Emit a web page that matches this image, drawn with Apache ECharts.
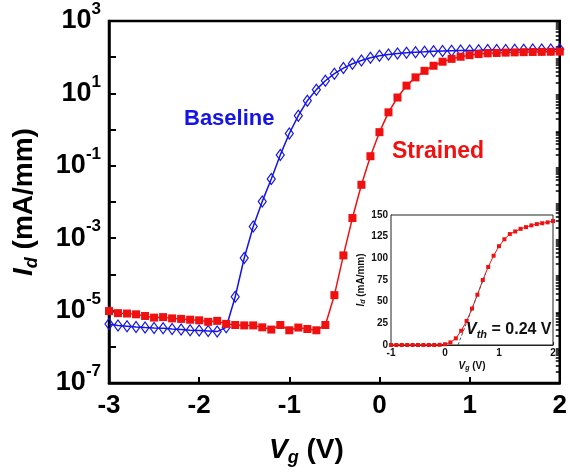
<!DOCTYPE html>
<html>
<head>
<meta charset="utf-8">
<script src="https://cdn.jsdelivr.net/npm/echarts@6/dist/echarts.min.js"></script>
<style>
  html, body { margin: 0; padding: 0; background: #fff; }
  #chart { width: 570px; height: 472px; }
</style>
</head>
<body>
<div id="chart"></div>
<script>
// gate voltage, V (0.1 V steps)
var vg = [-3.0, -2.9, -2.8, -2.7, -2.6, -2.5, -2.4, -2.3, -2.2, -2.1,
  -2.0, -1.9, -1.8, -1.7, -1.6, -1.5, -1.4, -1.3, -1.2, -1.1,
  -1.0, -0.9, -0.8, -0.7, -0.6, -0.5, -0.4, -0.3, -0.2, -0.1,
  0.0, 0.1, 0.2, 0.3, 0.4, 0.5, 0.6, 0.7, 0.8, 0.9,
  1.0, 1.1, 1.2, 1.3, 1.4, 1.5, 1.6, 1.7, 1.8, 1.9, 2.0];

// drain current, mA/mm
var baseline = [4.26e-6, 3.85e-6, 3.68e-6, 3.52e-6, 3.39e-6, 3.30e-6, 3.24e-6, 3.10e-6, 2.99e-6, 2.86e-6,
  2.80e-6, 2.74e-6, 2.63e-6, 3.45e-6, 2.41e-5, 2.84e-4, 2.1e-3, 1.04e-2, 4.3e-2, 0.20,
  0.78, 2.43, 6.3, 12.7, 22.4, 35, 50, 66, 81, 96,
  109, 118, 126, 132, 138, 141, 145, 148, 150, 152,
  154, 155, 157, 158, 159, 160, 161, 162, 163, 164, 165];

var strained = [9.7e-6, 8.5e-6, 8.3e-6, 7.9e-6, 7.1e-6, 6.4e-6, 6.6e-6, 6.1e-6, 5.9e-6, 5.6e-6,
  5.4e-6, 4.9e-6, 5.2e-6, 4.3e-6, 4.0e-6, 3.9e-6, 3.9e-6, 3.45e-6, 2.99e-6, 4.0e-6,
  2.86e-6, 3.4e-6, 3.1e-6, 2.86e-6, 4.0e-6, 2.67e-5, 3.35e-4, 3.6e-3, 2.99e-2, 0.184,
  0.85, 3.0, 7.7, 16.4, 27.7, 42, 58, 75, 90, 103,
  114, 122, 128, 131, 134, 136, 138, 139.5, 140.5, 141.5, 143];

// linear extrapolation for threshold voltage (inset)
var vthFit = [[0.24, 0], [0.75, 82]];

var BLUE = '#1414e6';
var RED = '#f01010';
var FONT = '"Liberation Sans", Arial, sans-serif';

// log minor ticks 2..9 x 10^n
var minorTicks = [];
for (var e = -7; e < 3; e++) {
  for (var m = 2; m <= 9; m++) minorTicks.push(m * Math.pow(10, e));
}

function pairs(xs, ys) {
  return xs.map(function (x, i) { return [x, ys[i]]; });
}

var insetStart = vg.indexOf(-1.0);

var chart = echarts.init(document.getElementById('chart'));

chart.setOption({
  animation: false,
  textStyle: { fontFamily: FONT },
  grid: [
    { left: 109, top: 21, right: 7, bottom: 87, show: true, borderColor: '#000', borderWidth: 2.5 },
    { left: 391, top: 215, width: 162, height: 130, show: true, borderColor: '#222', borderWidth: 1, backgroundColor: '#fff', z: 5 }
  ],
  xAxis: [
    {
      gridIndex: 0, type: 'value', min: -3, max: 2, interval: 1,
      axisLine: { onZero: false, lineStyle: { color: '#000', width: 2.5 } },
      axisTick: { inside: true, length: 6, lineStyle: { color: '#000', width: 2 } },
      axisLabel: { color: '#000', fontSize: 26, fontWeight: 'bold', margin: 10 },
      splitLine: { show: false },
      name: '{i|V}{s|g}{n| (V)}', nameLocation: 'middle', nameGap: 50,
      nameTextStyle: {
        padding: [0, 56, 0, 0],
        rich: {
          i: { fontSize: 28, fontWeight: 'bold', fontStyle: 'italic', lineHeight: 34, color: '#000' },
          s: { fontSize: 18, fontWeight: 'bold', fontStyle: 'italic', lineHeight: 34, verticalAlign: 'bottom', color: '#000' },
          n: { fontSize: 28, fontWeight: 'bold', lineHeight: 34, color: '#000' }
        }
      }
    },
    {
      gridIndex: 1, type: 'value', min: -1, max: 2, interval: 1,
      axisLine: { onZero: false, lineStyle: { color: '#222', width: 1 } },
      axisTick: { inside: true, length: 3, lineStyle: { color: '#222' } },
      axisLabel: { color: '#111', fontSize: 10, fontWeight: 'bold', margin: 3 },
      splitLine: { show: false },
      name: '{i|V}{s|g}{n| (V)}', nameLocation: 'middle', nameGap: 15,
      nameTextStyle: {
        rich: {
          i: { fontSize: 10, fontWeight: 'bold', fontStyle: 'italic', lineHeight: 12, color: '#111' },
          s: { fontSize: 7, fontWeight: 'bold', fontStyle: 'italic', lineHeight: 12, verticalAlign: 'bottom', color: '#111' },
          n: { fontSize: 10, fontWeight: 'bold', lineHeight: 12, color: '#111' }
        }
      }
    }
  ],
  yAxis: [
    {
      gridIndex: 0, type: 'log', logBase: 10, min: 1e-7, max: 1e3, interval: 1,
      axisLine: { onZero: false, lineStyle: { color: '#000', width: 2.5 } },
      axisTick: { inside: true, length: 7, lineStyle: { color: '#000', width: 2 } },
      axisLabel: {
        margin: 8,
        formatter: function (v) {
          var p = Math.round(Math.log(v) / Math.LN10);
          if (Math.abs(p) % 2 === 0) return '';
          return '{b|10}{s|' + p + '}';
        },
        rich: {
          b: { fontSize: 27, fontWeight: 'bold', color: '#000', lineHeight: 40 },
          s: { fontSize: 17, fontWeight: 'bold', color: '#000', lineHeight: 9, verticalAlign: 'top' }
        }
      },
      splitLine: { show: false },
      name: '{i|I}{s|d}{n| (mA/mm)}', nameLocation: 'middle', nameGap: 68,
      nameTextStyle: {
        rich: {
          i: { fontSize: 28, fontWeight: 'bold', fontStyle: 'italic', lineHeight: 34, color: '#000' },
          s: { fontSize: 18, fontWeight: 'bold', fontStyle: 'italic', lineHeight: 34, verticalAlign: 'bottom', color: '#000' },
          n: { fontSize: 28, fontWeight: 'bold', lineHeight: 34, color: '#000' }
        }
      }
    },
    {
      // minor log ticks only
      gridIndex: 0, type: 'log', logBase: 10, min: 1e-7, max: 1e3, interval: 1,
      axisLine: { show: false, onZero: false },
      axisTick: { inside: true, length: 4, customValues: minorTicks, lineStyle: { color: '#000', width: 1.5 } },
      axisLabel: { show: false },
      splitLine: { show: false }
    },
    {
      gridIndex: 1, type: 'value', min: 0, max: 150, interval: 25,
      axisLine: { onZero: false, lineStyle: { color: '#222', width: 1 } },
      axisTick: { inside: true, length: 3, lineStyle: { color: '#222' } },
      axisLabel: { color: '#111', fontSize: 10, fontWeight: 'bold', margin: 3 },
      splitLine: { show: false },
      name: '{i|I}{s|d}{n| (mA/mm)}', nameLocation: 'middle', nameGap: 24,
      nameTextStyle: {
        rich: {
          i: { fontSize: 10, fontWeight: 'bold', fontStyle: 'italic', lineHeight: 12, color: '#111' },
          s: { fontSize: 7, fontWeight: 'bold', fontStyle: 'italic', lineHeight: 12, verticalAlign: 'bottom', color: '#111' },
          n: { fontSize: 10, fontWeight: 'bold', lineHeight: 12, color: '#111' }
        }
      }
    }
  ],
  series: [
    {
      name: 'Baseline', type: 'line', xAxisIndex: 0, yAxisIndex: 0,
      data: pairs(vg, baseline),
      symbol: 'diamond', symbolSize: [8, 11],
      itemStyle: { color: 'rgba(255,255,255,0)', borderColor: BLUE, borderWidth: 1.2 },
      lineStyle: { color: BLUE, width: 1.5 }
    },
    {
      name: 'Strained', type: 'line', xAxisIndex: 0, yAxisIndex: 0,
      data: pairs(vg, strained),
      symbol: 'rect', symbolSize: 8,
      itemStyle: { color: RED },
      lineStyle: { color: RED, width: 1.5 }
    },
    {
      name: 'Strained inset', type: 'line', xAxisIndex: 1, yAxisIndex: 2, z: 6,
      data: pairs(vg.slice(insetStart), strained.slice(insetStart)),
      symbol: 'rect', symbolSize: 4,
      itemStyle: { color: RED },
      lineStyle: { color: RED, width: 1 }
    },
    {
      name: 'Vth fit', type: 'line', xAxisIndex: 1, yAxisIndex: 2, z: 6,
      data: vthFit, symbol: 'none',
      lineStyle: { color: '#555', width: 1, type: [3, 2] }
    }
  ],
  graphic: [
    {
      type: 'text', left: 184, top: 108, z: 10,
      style: { text: 'Baseline', fill: BLUE, font: 'bold 22px ' + FONT }
    },
    {
      type: 'text', left: 392, top: 140, z: 10,
      style: { text: 'Strained', fill: RED, font: 'bold 23px ' + FONT }
    },
    {
      type: 'text', left: 466, top: 322, z: 10,
      style: {
        text: '{i|V}{s|th}{n| = 0.24 V}',
        rich: {
          i: { fontSize: 16, fontWeight: 'bold', fontStyle: 'italic', lineHeight: 20, fill: '#111', fontFamily: FONT },
          s: { fontSize: 11, fontWeight: 'bold', fontStyle: 'italic', lineHeight: 20, verticalAlign: 'bottom', fill: '#111', fontFamily: FONT },
          n: { fontSize: 16, fontWeight: 'bold', lineHeight: 20, fill: '#111', fontFamily: FONT }
        }
      }
    }
  ]
});
</script>
</body>
</html>
